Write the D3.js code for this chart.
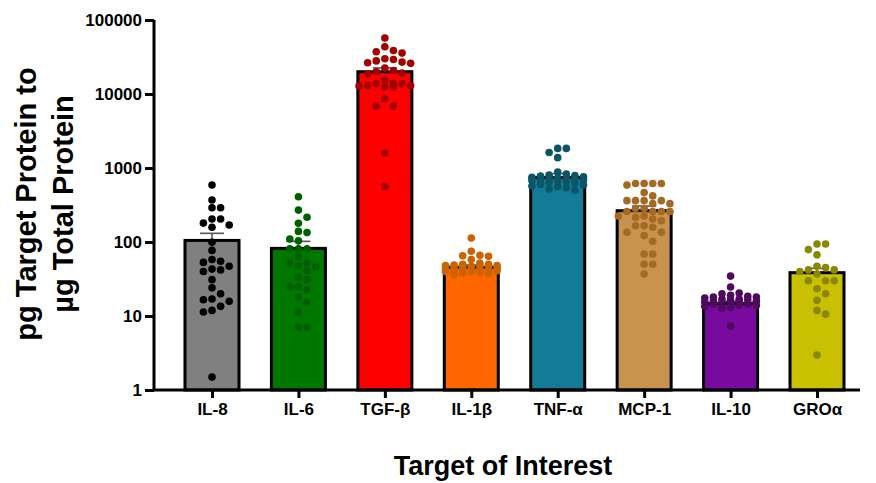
<!DOCTYPE html>
<html>
<head>
<meta charset="utf-8">
<script src="https://cdn.jsdelivr.net/npm/d3@7/dist/d3.min.js"></script>
<style>
  html, body { margin: 0; padding: 0; background: #fff; }
  svg { display: block; font-family: "Liberation Sans", Arial, sans-serif; font-weight: bold; }
</style>
</head>
<body>
<svg id="chart" width="876" height="483"></svg>
<script>
// Targets measured
const categories = ["IL-8", "IL-6", "TGF-β", "IL-1β", "TNF-α", "MCP-1", "IL-10", "GROα"];

// Group means and upper error (mean + SEM), pg target protein per µg total protein
const means    = [105, 82, 20000, 45.5, 745, 265, 14.8, 38.5];
const errorTop = [131, 102, 22500, 49, 840, 306, 15.8, 44];

// Individual sample values per target
const il8  = [590, 370, 290, 290, 205, 205, 180, 170, 158, 99, 77, 58, 55, 53, 47, 43, 42, 40, 31, 24, 20, 17, 16.6, 15.8, 13.5, 11.9, 11.3, 1.5];
const il6  = [408, 270, 216, 179, 139, 134, 110, 104, 81, 81, 81, 63, 52, 52, 48, 46, 41, 33.5, 31, 25, 24.6, 22.6, 18, 15.3, 11.2, 7.1, 7.1];
const tgfb = [57000, 43500, 38800, 37300, 35700, 30000, 29200, 28000, 27000, 26500, 26000, 22400, 20800, 20000, 19200, 18700, 15600, 14000, 13800, 13800, 13000, 13000, 12800, 12400, 12400, 8600, 6850, 6850, 1580, 562];
const il1b = [113, 75, 66, 65, 64, 58, 52, 50, 50, 49, 48, 48, 47, 47, 46, 46, 45, 45, 44, 44, 43, 43, 42, 42, 41, 40, 40, 39, 38, 37, 36];
const tnfa = [1840, 1840, 1620, 1380, 880, 830, 800, 790, 780, 760, 750, 740, 730, 720, 710, 700, 690, 680, 670, 650, 640, 620, 600, 590, 570, 560, 540, 520, 500];
const mcp1 = [618, 618, 618, 618, 587, 467, 420, 362, 362, 362, 362, 330, 330, 284, 284, 258, 258, 258, 258, 225, 225, 215, 205, 194, 166, 166, 158, 135, 135, 122, 102, 69, 69, 50, 50, 37];
const il10 = [34.6, 24.6, 20.5, 20, 19, 18.5, 18, 18, 17.5, 17, 17, 16.5, 16.5, 16, 16, 15.5, 15.5, 15, 15, 14.5, 14.5, 14, 14, 13.5, 13, 12.7, 7.3];
const groa = [94, 94, 79, 67, 47, 45, 42, 42, 40, 37, 30, 30, 30, 23.3, 20, 16.3, 11.9, 10.6, 2.96];
const samples = [il8, il6, tgfb, il1b, tnfa, mcp1, il10, groa];

// Y axis tick values
const yTicks = [1, 10, 100, 1000, 10000, 100000];

const barColors = ["#808080", "#007800", "#ff0000", "#ff6600", "#137b96", "#c8924f", "#790aa0", "#c8c000"];
const dotColors = ["#000000", "#005f00", "#a30000", "#cc6200", "#0b5569", "#a46a22", "#4d0a5f", "#8a8800"];

const svg = d3.select("#chart");

const axisX = 154, axisY = 390, axisRight = 860;
const y = d3.scaleLog().domain([1, 100000]).range([390, 20]);
const x = d3.scalePoint().domain(categories).range([212, 817]);
const barW = 54;
const r = 3.8;

// Bars
svg.append("g").selectAll("rect")
  .data(categories)
  .join("rect")
  .attr("x", d => x(d) - barW / 2)
  .attr("width", barW)
  .attr("y", (d, i) => y(means[i]))
  .attr("height", (d, i) => y(1) - y(means[i]))
  .attr("fill", (d, i) => barColors[i])
  .attr("stroke", "#000")
  .attr("stroke-width", 3);

// Error bars (upper only)
const eg = svg.append("g").attr("stroke", "#555").attr("stroke-width", 1.6);
categories.forEach((c, i) => {
  eg.append("line").attr("x1", x(c)).attr("x2", x(c)).attr("y1", y(means[i])).attr("y2", y(errorTop[i]));
  eg.append("line").attr("x1", x(c) - 12).attr("x2", x(c) + 12).attr("y1", y(errorTop[i])).attr("y2", y(errorTop[i]));
});

// Scatter of individual samples, laid out in columns so dots do not stack
const step = 8.6, maxK = 3;
categories.forEach((c, i) => {
  const placed = [];
  const vals = samples[i].slice().sort((a, b) => b - a);
  vals.forEach(v => {
    const py = y(v);
    let best = null, bestDist = -1;
    for (let j = 0; j <= 2 * maxK; j++) {
      const k = j === 0 ? 0 : (j % 2 ? (j + 1) / 2 : -j / 2);
      const px = k * step;
      let minD = Infinity;
      placed.forEach(p => {
        const d = Math.hypot(p[0] - px, p[1] - py);
        if (d < minD) minD = d;
      });
      if (minD >= 2 * r) { best = px; bestDist = Infinity; break; }
      if (minD > bestDist) { bestDist = minD; best = px; }
    }
    placed.push([best, py]);
  });
  svg.append("g").selectAll("circle")
    .data(placed)
    .join("circle")
    .attr("cx", d => x(c) + d[0])
    .attr("cy", d => d[1])
    .attr("r", r)
    .attr("fill", dotColors[i]);
});

// Y axis
const yAxis = svg.append("g")
  .attr("transform", `translate(${axisX},0)`)
  .call(d3.axisLeft(y).tickValues(yTicks).tickFormat(d3.format("d")).tickSize(9).tickPadding(3));
yAxis.select(".domain").attr("stroke-width", 3).attr("d", `M0,${y(100000)}V${axisY}`);
yAxis.selectAll(".tick line").attr("stroke-width", 3);
yAxis.selectAll(".tick text").attr("font-size", 17).attr("font-weight", "bold").attr("font-family", "Liberation Sans, Arial, sans-serif").attr("fill", "#000");

// X axis
const xAxis = svg.append("g")
  .attr("transform", `translate(0,${axisY})`)
  .call(d3.axisBottom(x).tickSize(8).tickPadding(5));
xAxis.select(".domain").attr("stroke-width", 3).attr("d", `M${axisX},0H${axisRight}`);
xAxis.selectAll(".tick line").attr("stroke-width", 3);
xAxis.selectAll(".tick text").attr("font-size", 17).attr("font-weight", "bold").attr("font-family", "Liberation Sans, Arial, sans-serif").attr("fill", "#000");

// Axis titles
const yTitle = svg.append("text")
  .attr("transform", "translate(0,204) rotate(-90)")
  .attr("text-anchor", "middle")
  .attr("font-size", 29)
  .attr("fill", "#000");
yTitle.append("tspan").attr("x", 0).attr("y", 36).text("pg Target Protein to");
yTitle.append("tspan").attr("x", 0).attr("y", 73).text("µg Total Protein");

svg.append("text")
  .attr("x", 503).attr("y", 475)
  .attr("text-anchor", "middle")
  .attr("font-size", 27)
  .attr("fill", "#000")
  .text("Target of Interest");
</script>
</body>
</html>
